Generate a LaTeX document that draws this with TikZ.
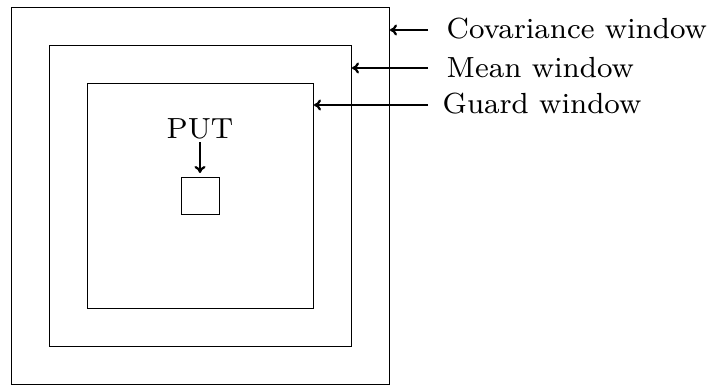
\documentclass[tikz,border=0pt]{standalone}
\usetikzlibrary{arrows.meta}
\begin{document}
\begin{tikzpicture}[x=1pt,y=-1pt,
  win/.style={draw,line width=0.9pt},
  ptr/.style={line width=2.2pt,-{To[length=7pt,width=11pt]}},
  lbl/.style={anchor=base west,inner sep=0pt,scale=3.64,font=\fontsize{8}{9}\selectfont}]
\useasboundingbox (0,0) rectangle (713,386);
\draw[win] (11,7) rectangle (389,384);
\draw[win] (49,45) rectangle (351,346);
\draw[win] (87,83) rectangle (313,308);
\draw[win] (181,177) rectangle (219,214);
\node[lbl] (cov) at (446,38) {Covariance window};
\node[lbl] (mean) at (446,77) {Mean window};
\node[lbl] (guard) at (442,113) {Guard window};
\node[lbl,anchor=base] (put) at (200,138) {PUT};
\coordinate (c1) at (428,30); \coordinate (c2) at (390,30);
\coordinate (m1) at (428,68); \coordinate (m2) at (352,68);
\coordinate (g1) at (428,105); \coordinate (g2) at (314,105);
\coordinate (p1) at (200,142); \coordinate (p2) at (200,173);
\draw[ptr] (c1) -- (c2);
\draw[ptr] (m1) -- (m2);
\draw[ptr] (g1) -- (g2);
\draw[ptr] (p1) -- (p2);
\end{tikzpicture}
\end{document}
